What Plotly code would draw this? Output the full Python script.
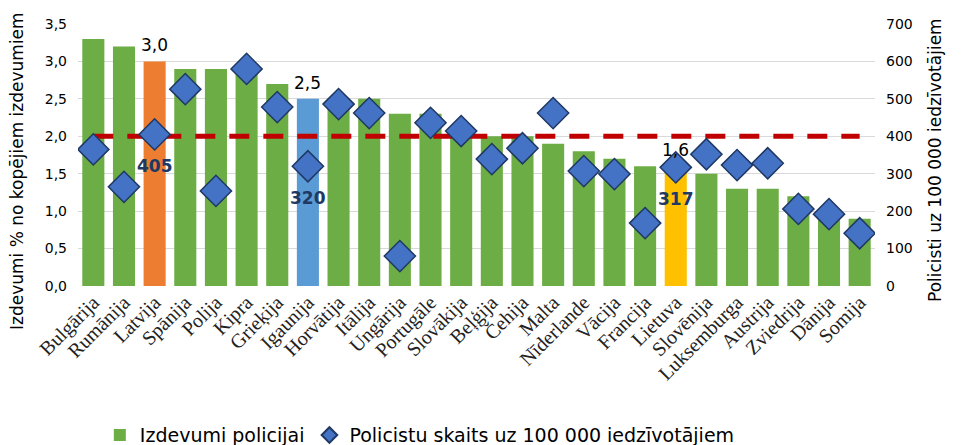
import plotly.graph_objects as go

countries = ["Bulgārija", "Rumānija", "Latvija", "Spānija", "Polija", "Kipra", "Grieķija",
             "Igaunija", "Horvātija", "Itālija", "Ungārija", "Portugāle", "Slovākija",
             "Beļģija", "Čehija", "Malta", "Nīderlande", "Vācija", "Francija", "Lietuva",
             "Slovēnija", "Luksemburga", "Austrija", "Zviedrija", "Dānija", "Somija"]
spending = [3.3, 3.2, 3.0, 2.9, 2.9, 2.9, 2.7, 2.5, 2.5, 2.5, 2.3, 2.3, 2.1,
            2.0, 2.0, 1.9, 1.8, 1.7, 1.6, 1.6, 1.5, 1.3, 1.3, 1.2, 1.0, 0.9]
police = [365, 265, 405, 526, 254, 580, 478, 320, 486, 462, 80, 436, 414,
          339, 368, 462, 307, 299, 168, 317, 352, 323, 328, 206, 192, 141]
threshold = 2.0
highlight = {"Latvija": "#ED7D31", "Igaunija": "#5B9BD5", "Lietuva": "#FFC000"}
green = "#6DAD45"
bar_colors = [highlight.get(c, green) for c in countries]

fig = go.Figure()
fig.add_trace(go.Bar(
    x=countries, y=spending, name="Izdevumi policijai",
    marker=dict(color=bar_colors, line=dict(width=0)),
    showlegend=False, yaxis="y"))
fig.add_trace(go.Scatter(
    x=[None], y=[None], mode="markers", name="Izdevumi policijai",
    marker=dict(symbol="square", color=green, size=12), yaxis="y"))
fig.add_trace(go.Scatter(
    x=[countries[0], countries[-1]], y=[threshold, threshold], mode="lines",
    line=dict(color="#C00000", width=5, dash="20px,14px"),
    showlegend=False, hoverinfo="skip", yaxis="y"))
fig.add_trace(go.Scatter(
    x=countries, y=police, mode="markers", yaxis="y2",
    name="Policistu skaits uz 100 000 iedzīvotājiem",
    marker=dict(symbol="diamond", size=24, color="#4472C4",
                line=dict(color="#1F3864", width=1.5))))

anno = []
for c in highlight:
    i = countries.index(c)
    anno.append(dict(x=c, y=spending[i], yref="y", text=f"{spending[i]:.1f}".replace(".", ","),
                     showarrow=False, yanchor="bottom", yshift=4,
                     font=dict(family="DejaVu Sans", size=17, color="#000000")))
    anno.append(dict(x=c, y=police[i], yref="y2", text=str(police[i]),
                     showarrow=False, yanchor="top", yshift=-20,
                     font=dict(family="DejaVu Sans", size=17, color="#203864", weight="bold")))
anno.append(dict(xref="paper", yref="paper", x=-0.0765, y=0.439, textangle=-90,
                 text="Izdevumi % no kopējiem izdevumiem", showarrow=False,
                 xanchor="center", yanchor="middle", font=dict(size=17)))
anno.append(dict(xref="paper", yref="paper", x=1.0753, y=0.481, textangle=-90,
                 text="Policisti uz 100 000 iedzīvotājiem", showarrow=False,
                 xanchor="center", yanchor="middle", font=dict(size=17)))

fig.update_layout(
    width=969, height=445,
    margin=dict(l=70, r=102, t=16, b=167),
    paper_bgcolor="white", plot_bgcolor="white",
    separators=", ",
    bargap=0.28,
    font=dict(family="DejaVu Sans", color="#000000"),
    xaxis=dict(tickangle=-45, tickfont=dict(family="Liberation Serif", size=20, color="#222"),
               showgrid=False, showline=False, ticks="", automargin=False,
               range=[-0.5, len(countries) - 0.5]),
    yaxis=dict(range=[0, 3.5], dtick=0.5, tickformat=".1f", gridcolor="#D9D9D9",
               zeroline=False, tickfont=dict(size=14), automargin=False, ticklabelstandoff=10),
    yaxis2=dict(range=[0, 700], dtick=100, overlaying="y", side="right", showgrid=False,
                zeroline=False, tickfont=dict(size=14), automargin=False, ticklabelstandoff=10),
    legend=dict(orientation="h", xref="container", yref="container",
                x=0.425, xanchor="center", y=0.04, yanchor="middle",
                font=dict(size=19), itemsizing="constant"),
    annotations=anno,
    shapes=[
        dict(type="rect", xref="paper", yref="paper", x0=1.113, x1=1.14, y0=-0.0725, y1=-0.225,
             fillcolor="#E2EFDA", line=dict(color="#000", width=2)),
        dict(type="rect", xref="paper", yref="paper", x0=1.113, x1=1.14, y0=-0.225, y1=-0.389,
             fillcolor="white", line=dict(color="#000", width=2)),
    ],
)

fig.write_html("out.html")
